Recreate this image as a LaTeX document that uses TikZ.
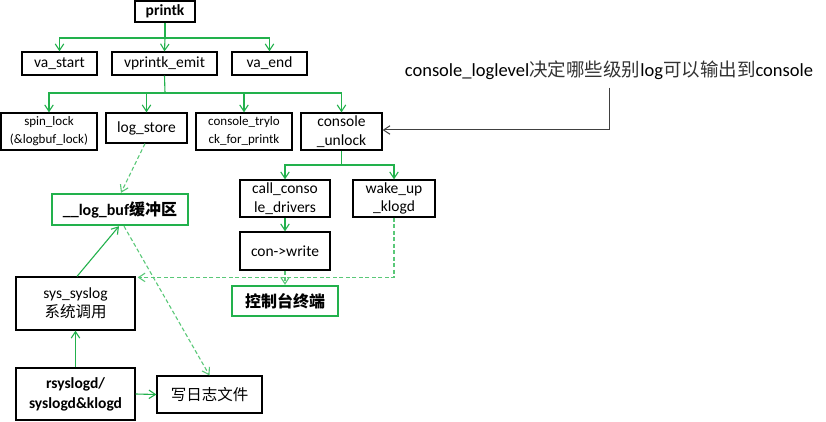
\documentclass[tikz,border=0pt]{standalone}
\usepackage{fontspec}
\setmainfont{Carlito}
\newfontfamily\cjk{Noto Sans CJK SC}
\usetikzlibrary{arrows.meta,calc}
\definecolor{lg}{RGB}{34,177,76}
\definecolor{ld}{RGB}{90,200,120}
\definecolor{lk}{RGB}{64,64,64}
\begin{document}
\begin{tikzpicture}[x=1pt,y=-1pt,
  box/.style={draw=black, line width=1.2pt, inner sep=0pt, align=center,
    font=\fontsize{15.5}{18.5}\selectfont},
  sbox/.style={box, font=\fontsize{13}{18}\selectfont},
  gbox/.style={draw=lg, line width=2.4pt, inner sep=0pt, align=center,
    font=\fontsize{16}{19}\selectfont\bfseries},
  tip/.style={-{Straight Barb[length=6.5pt,width=8.5pt]}},
  arr/.style={tip, draw=lg, line width=1.1pt},
  darr/.style={tip, draw=ld, line width=1.1pt, dash pattern=on 4pt off 2.5pt},
  karr/.style={tip, draw=lk, line width=1.1pt},
]
\useasboundingbox (0,0) rectangle (826,422);

% top level
\node[box, font=\fontsize{15.5}{18.5}\selectfont\bfseries, minimum width=60pt, minimum height=21pt] (printk) at (165,11.5) {printk};
\node[box, minimum width=75pt, minimum height=23pt] (vastart) at (59.5,63.5) {va\_start};
\node[box, minimum width=105pt, minimum height=23pt] (vemit) at (164.5,63.5) {vprintk\_emit};
\node[box, minimum width=75pt, minimum height=23pt] (vaend) at (269.5,63.5) {va\_end};

% second level
\node[sbox, minimum width=96pt, minimum height=37pt] (spin) at (49,131.5) {spin\_lock\\(\&logbuf\_lock)};
\node[box, minimum width=81pt, minimum height=30pt] (lstore) at (146.5,128) {log\_store};
\node[sbox, minimum width=96pt, minimum height=37pt] (tryl) at (244,131.5) {console\_trylo\\ck\_for\_printk};
\node[box, minimum width=81pt, minimum height=37pt] (unlock) at (341.5,131.5) {console\\\_unlock};

% third level
\node[box, minimum width=90pt, minimum height=37pt] (calld) at (285,198.5) {call\_conso\\le\_drivers};
\node[box, minimum width=82pt, minimum height=37pt] (wake) at (394,198.5) {wake\_up\\\_klogd};
\node[box, minimum width=90pt, minimum height=38pt] (conw) at (285,251) {con->write};
\node[gbox, minimum width=106pt, minimum height=30pt] (term) at (285,301) {{\cjk 控制台终端}};

% left side
\node[gbox, minimum width=136pt, minimum height=31pt] (logbuf) at (120,209.5) {\_\_log\_buf{\cjk 缓冲区}};
\node[box, minimum width=119pt, minimum height=53pt] (sys) at (75.5,303.5) {sys\_syslog\\{\cjk 系统调用}};
\node[box, font=\fontsize{15.5}{20}\selectfont\bfseries, minimum width=119pt, minimum height=52pt] (rsys) at (75.5,394) {rsyslogd/\\syslogd\&klogd};
\node[box, minimum width=105pt, minimum height=37pt] (wfile) at (209.5,394.5) {{\cjk 写日志文件}};

% label
\node[inner sep=0pt, font=\fontsize{18.5}{22}\selectfont] (lbl) at (609,70)
  {console\_loglevel{\cjk\color{black!80} 决定哪些级别}log{\cjk\color{black!80} 可以输出到}console};
\coordinate (lbend) at (609,130);

% tree connectors
\coordinate (j1) at (165,38);
\draw[lg, line width=1.1pt] (printk.south) -- (j1);
\draw[arr] (j1) -| (vastart.north);
\draw[arr] (j1) -- (vemit.north);
\draw[arr] (j1) -| (vaend.north);

\coordinate (j2) at (165,93);
\draw[lg, line width=1.1pt] (vemit.south) -- (j2);
\draw[arr] (j2) -| (spin.north);
\draw[arr] (j2) -| (lstore.north);
\draw[arr] (j2) -| (tryl.north);
\draw[arr] (j2) -| (unlock.north);

\coordinate (j3) at (341.5,165);
\draw[lg, line width=1.1pt] (unlock.south) -- (j3);
\draw[arr] (j3) -| (calld.north);
\draw[arr] (j3) -| (wake.north);

\draw[arr] (calld.south) -- (conw.north);
\draw[darr] (conw.south) -- (term.north);
\draw[darr] (wake.south) |- ($(sys.north east)+(2,1)$);

\draw[darr] ($(lstore.south)+(-1.5,0)$) -- ($(logbuf.north)+(1,0)$);
\draw[arr] ($(sys.north)+(1.5,0)$) -- ($(logbuf.south)+(-1,0)$);
\draw[darr] ($(logbuf.south)+(4,0)$) -- (wfile.north);
\draw[arr] (rsys.north) -- (sys.south);
\draw[arr] (rsys.east) -- (wfile.west);

\draw[karr, line width=1pt] ($(lbl.south)+(0,8)$) -- (lbend) -- (lbend -| unlock.east);
\end{tikzpicture}
\end{document}
